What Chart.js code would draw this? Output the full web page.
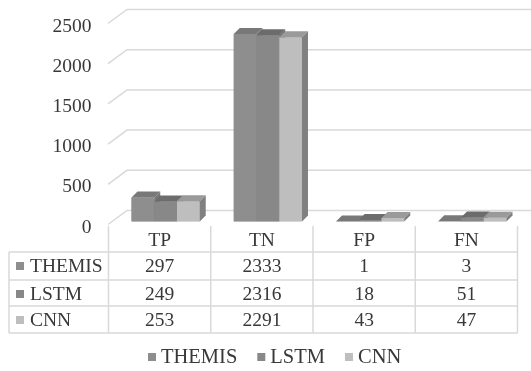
<!DOCTYPE html>
<html>
<head>
<meta charset="utf-8">
<script src="https://cdn.jsdelivr.net/npm/chart.js@4.4.0/dist/chart.umd.min.js"></script>
<style>
  html, body { margin: 0; padding: 0; background: #fff; }
  #wrap { width: 531px; height: 371px; }
</style>
</head>
<body>
<div id="wrap"><canvas id="chart" width="531" height="371"></canvas></div>
<script>
const categories = ["TP", "TN", "FP", "FN"];
const seriesNames = ["THEMIS", "LSTM", "CNN"];
const themisValues = [297, 2333, 1, 3];
const lstmValues = [249, 2316, 18, 51];
const cnnValues = [253, 2291, 43, 47];
const yMax = 2500;
const yStep = 500;

const FONT = "Liberation Serif";
const TEXT = "#383838";
const LINE = "#d9d9d9";
const frontColors = ["#8e8e8e", "#888888", "#bebebe"];
const topColors = ["#787878", "#6c6c6c", "#9a9a9a"];
const sideColors = ["#777777", "#6e6e6e", "#808080"];

const DEPTH_X = 6, DEPTH_Y = -6;   // bar depth
const SHIFT = 6;                   // bars sit a bit right of the table columns

const wallAndBars = {
  id: "wallAndBars",
  beforeDatasetsDraw(chart) {
    const ctx = chart.ctx;
    const y = chart.scales.y;
    ctx.save();
    ctx.strokeStyle = LINE;
    ctx.lineWidth = 1.5;
    y.ticks.forEach(t => {
      const py = y.getPixelForValue(t.value);
      ctx.beginPath();
      ctx.moveTo(108, py + 3);
      ctx.lineTo(127, py - 11);
      ctx.lineTo(531, py - 11);
      ctx.stroke();
    });
    ctx.restore();
    ctx.save();
    ctx.translate(SHIFT, 0);
  },
  afterDatasetsDraw(chart) {
    const ctx = chart.ctx;
    const metas = chart.data.datasets.map((d, i) => chart.getDatasetMeta(i));
    categories.forEach((c, i) => {
      metas.forEach((meta, d) => {
        const bar = meta.data[i];
        const w = bar.width;
        const l = bar.x - w / 2, r = bar.x + w / 2;
        const top = bar.y, base = bar.base;
        ctx.fillStyle = frontColors[d];
        ctx.fillRect(l, top, w, base - top);
        ctx.fillStyle = topColors[d];
        ctx.beginPath();
        ctx.moveTo(l, top);
        ctx.lineTo(l + DEPTH_X, top + DEPTH_Y);
        ctx.lineTo(r + DEPTH_X, top + DEPTH_Y);
        ctx.lineTo(r, top);
        ctx.closePath();
        ctx.fill();
        ctx.fillStyle = sideColors[d];
        ctx.beginPath();
        ctx.moveTo(r, top);
        ctx.lineTo(r + DEPTH_X, top + DEPTH_Y);
        ctx.lineTo(r + DEPTH_X, base + DEPTH_Y);
        ctx.lineTo(r, base);
        ctx.closePath();
        ctx.fill();
      });
    });
    ctx.restore();
  }
};

// data table under the plot plus the legend
const dataTable = {
  id: "dataTable",
  afterDraw(chart) {
    const ctx = chart.ctx;
    const x = chart.scales.x;
    const colW = (chart.chartArea.right - chart.chartArea.left) / categories.length;
    const rowLines = [252, 280, 306, 333];
    const tableLeft = 9;
    const right = chart.chartArea.right;
    ctx.save();
    ctx.strokeStyle = LINE;
    ctx.lineWidth = 1.5;
    rowLines.forEach(ry => {
      ctx.beginPath();
      ctx.moveTo(tableLeft, ry);
      ctx.lineTo(right, ry);
      ctx.stroke();
    });
    ctx.beginPath();
    ctx.moveTo(tableLeft, rowLines[0]);
    ctx.lineTo(tableLeft, rowLines[3]);
    ctx.stroke();
    for (let i = 0; i <= categories.length; i++) {
      const vx = chart.chartArea.left + i * colW;
      ctx.beginPath();
      ctx.moveTo(vx, 226);
      ctx.lineTo(vx, rowLines[3]);
      ctx.stroke();
    }

    ctx.font = "19.5px '" + FONT + "'";
    ctx.fillStyle = TEXT;
    ctx.textBaseline = "middle";
    ctx.textAlign = "center";
    categories.forEach((c, i) => {
      ctx.fillText(c, x.getPixelForValue(i), 241);
    });
    const rowMid = [266, 294, 320];
    chart.data.datasets.forEach((ds, d) => {
      ctx.fillStyle = frontColors[d];
      ctx.fillRect(16, rowMid[d] - 4, 8, 8);
      ctx.fillStyle = TEXT;
      ctx.textAlign = "left";
      ctx.fillText(ds.label, 30, rowMid[d] + 1);
      ctx.textAlign = "center";
      ds.data.forEach((v, i) => {
        ctx.fillText(String(v), x.getPixelForValue(i), rowMid[d] + 1);
      });
    });

    // legend
    ctx.font = "20.5px '" + FONT + "'";
    let lx = 148;
    const ly = 357;
    ctx.textAlign = "left";
    chart.data.datasets.forEach((ds, d) => {
      ctx.fillStyle = frontColors[d];
      ctx.fillRect(lx, ly - 4, 8, 8);
      lx += 13;
      ctx.fillStyle = TEXT;
      ctx.fillText(ds.label, lx, ly + 1);
      lx += ctx.measureText(ds.label).width + 20;
    });
    ctx.restore();
  }
};

new Chart(document.getElementById("chart"), {
  type: "bar",
  data: {
    labels: categories,
    datasets: [
      { label: seriesNames[0], data: themisValues, backgroundColor: frontColors[0] },
      { label: seriesNames[1], data: lstmValues, backgroundColor: frontColors[1] },
      { label: seriesNames[2], data: cnnValues, backgroundColor: frontColors[2] }
    ]
  },
  options: {
    responsive: false,
    animation: false,
    events: [],
    layout: { padding: { left: 0, right: 13.5, top: 20.5, bottom: 149.5 } },
    datasets: { bar: { categoryPercentage: 0.667, barPercentage: 1.0 } },
    plugins: { legend: { display: false }, tooltip: { enabled: false } },
    scales: {
      x: { display: false },
      y: {
        min: 0,
        max: yMax,
        afterFit: s => {
          s.width = 108.5;
          s.paddingTop = 0;
          s.paddingBottom = 0;
        },
        grid: { display: false, drawTicks: false },
        border: { display: false },
        ticks: {
          stepSize: yStep,
          padding: 17,
          labelOffset: 6,
          color: TEXT,
          font: { family: FONT, size: 19.5 },
          callback: v => String(v)
        }
      }
    }
  },
  plugins: [wallAndBars, dataTable]
});
</script>
</body>
</html>
